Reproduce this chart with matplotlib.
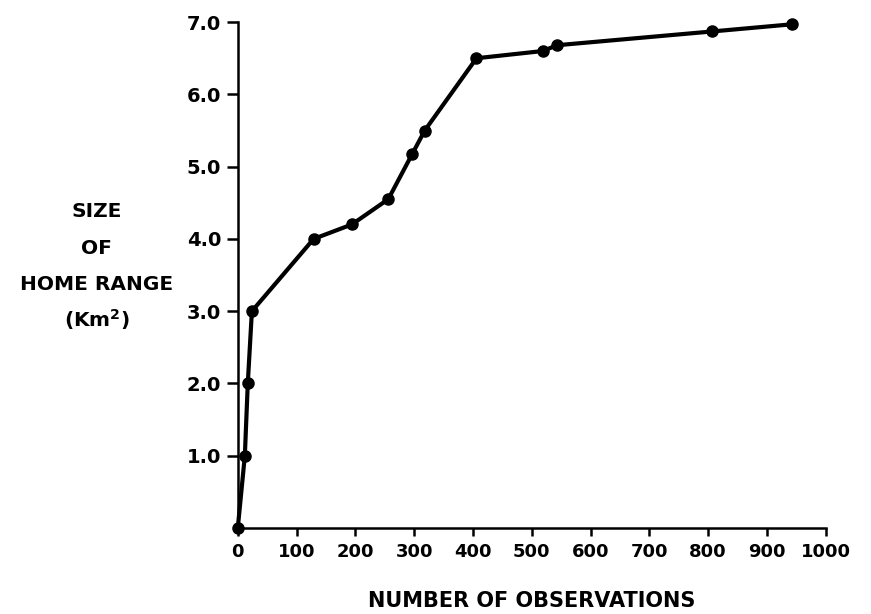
import matplotlib
matplotlib.use("Agg")
import matplotlib.pyplot as plt

# ── Data ──────────────────────────────────────────────────────────────────────
observations = [0, 12, 17, 24, 129, 194, 256, 297, 318, 406, 519, 543, 806, 943]
home_range   = [0.0, 1.0, 2.0, 3.0, 4.0, 4.2, 4.55, 5.18, 5.5, 6.5, 6.6, 6.68, 6.87, 6.97]

x_ticks  = [0, 100, 200, 300, 400, 500, 600, 700, 800, 900, 1000]
y_ticks  = [1.0, 2.0, 3.0, 4.0, 5.0, 6.0, 7.0]
y_labels = ["SIZE", "OF", "HOME RANGE", "(Km$^\\mathbf{2}$)"]

plt.rcParams["font.family"] = ["DejaVu Sans"]
plt.rcParams["font.weight"] = "bold"
plt.rcParams["mathtext.default"] = "bf"

fig = plt.figure(figsize=(8.71, 6.14), dpi=100)
ax = fig.add_axes([0.273, 0.140, 0.675, 0.824])

ax.plot(observations, home_range, color="black", linewidth=3.0,
        marker="o", markersize=8, clip_on=False, zorder=3)

ax.set_xlim(0, 1000)
ax.set_ylim(0, 7)
ax.set_xticks(x_ticks)
ax.set_xticklabels([str(t) for t in x_ticks], fontsize=13, fontweight="bold")
ax.set_yticks(y_ticks)
ax.set_yticklabels([f"{t:.1f}" for t in y_ticks], fontsize=14, fontweight="bold")

for side in ("top", "right"):
    ax.spines[side].set_visible(False)
for side in ("left", "bottom"):
    ax.spines[side].set_linewidth(1.8)

ax.tick_params(axis="x", direction="out", length=6, width=1.8, pad=5)
ax.tick_params(axis="y", direction="out", length=8, width=1.8, pad=4)

# multi-line y-axis title, one line per text object
for i, txt in enumerate(y_labels):
    fig.text(0.111, 1 - (212 + 36 * i) / 614, txt, ha="center", va="center",
             fontsize=14.5, fontweight="bold")

fig.text(0.610, 1 - 601 / 614, "NUMBER OF OBSERVATIONS", ha="center", va="center",
         fontsize=15, fontweight="bold")

fig.savefig("out.png", dpi=100, facecolor="white")
